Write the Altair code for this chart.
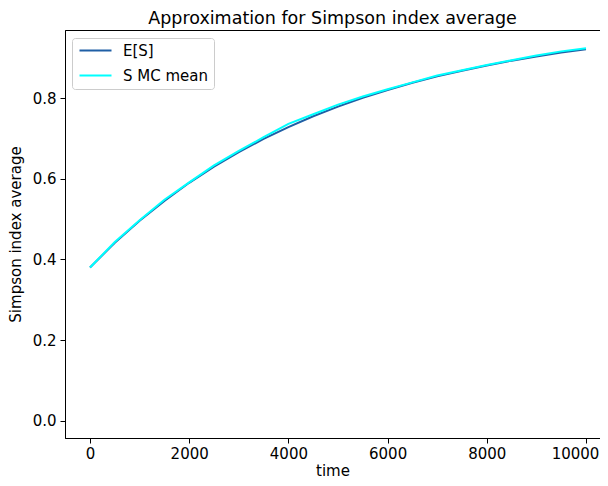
import altair as alt
import pandas as pd

time = [0, 500, 1000, 1500, 2000, 2500, 3000, 3500, 4000, 4500, 5000,
        5500, 6000, 6500, 7000, 7500, 8000, 8500, 9000, 9500, 10000]
es = [0.380, 0.441, 0.496, 0.545, 0.590, 0.630, 0.666, 0.699, 0.728, 0.755, 0.779,
      0.801, 0.820, 0.838, 0.854, 0.868, 0.881, 0.893, 0.903, 0.913, 0.921]
mc = [0.380, 0.443, 0.497, 0.548, 0.591, 0.633, 0.669, 0.703, 0.736, 0.760, 0.784,
      0.804, 0.822, 0.839, 0.856, 0.869, 0.882, 0.894, 0.906, 0.916, 0.924]

series_names = ["E[S]", "S MC mean"]
series_colors = ["#1f5fa5", "#00ffff"]

df = pd.DataFrame(
    {"time": time + time,
     "value": es + mc,
     "series": [series_names[0]] * len(time) + [series_names[1]] * len(time)}
)

FONT = "DejaVu Sans"

x = alt.X("time:Q", title="time",
          scale=alt.Scale(domain=[-504, 10282], nice=False, zero=False),
          axis=alt.Axis(values=[0, 2000, 4000, 6000, 8000, 10000], format="d",
                        grid=False, tickSize=5, labelFontSize=15, titleFontSize=15,
                        labelPadding=3, titlePadding=2, titleFontWeight="normal",
                        labelFont=FONT, titleFont=FONT,
                        labelOffset={"condition": {"test": "datum.value == 10000", "value": -11},
                                     "value": 0}))
y = alt.Y("value:Q", title="Simpson index average",
          scale=alt.Scale(domain=[-0.043, 0.969], nice=False, zero=False),
          axis=alt.Axis(values=[0.0, 0.2, 0.4, 0.6, 0.8], format=".1f",
                        grid=False, tickSize=5, labelFontSize=15, titleFontSize=15,
                        labelPadding=4, titlePadding=9, titleFontWeight="normal",
                        labelFont=FONT, titleFont=FONT))
color = alt.Color("series:N", title=None,
                  scale=alt.Scale(domain=series_names, range=series_colors),
                  legend=alt.Legend(orient="none", legendX=7, legendY=8,
                                    symbolType="M-1,0H5.4", symbolSize=100,
                                    symbolStrokeWidth=2, labelFontSize=15,
                                    labelFont=FONT, padding=5, rowPadding=9,
                                    strokeColor="#cccccc", fillColor="white",
                                    cornerRadius=3, labelOffset=31))

base = alt.Chart(df).encode(x=x, y=y, color=color)
l1 = base.transform_filter(alt.datum.series == series_names[0]).mark_line(strokeWidth=2)
l2 = base.transform_filter(alt.datum.series == series_names[1]).mark_line(strokeWidth=2)

chart = alt.layer(l1, l2).properties(
    width=535, height=408,
    title=alt.Title("Approximation for Simpson index average", fontSize=17.5,
                    font=FONT, fontWeight="normal", offset=3),
    padding={"left": 57, "top": 22, "right": 0, "bottom": 40},
    autosize=alt.AutoSizeParams(type="none"),
    background="white",
).configure_view(stroke="black", strokeWidth=1).configure_axis(
    domainColor="black", tickColor="black", labelColor="black", titleColor="black"
)

chart.save("out.html", embed_options={"renderer": "svg", "actions": False})
